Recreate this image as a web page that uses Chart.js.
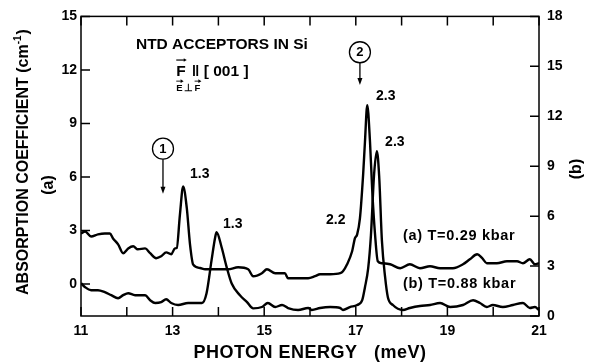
<!DOCTYPE html>
<html><head><meta charset="utf-8">
<script src="https://cdn.jsdelivr.net/npm/chart.js@4/dist/chart.umd.min.js"></script>
<style>html,body{margin:0;padding:0;background:#fff}#wrap{width:595px;height:364px;position:relative}</style>
</head><body><div id="wrap"><canvas id="c"></canvas></div>
<script>
// Curve (a) T=0.29 kbar, left axis (a)
const energyA = [11.00,11.09,11.22,11.37,11.52,11.63,11.70,11.81,11.92,12.03,12.14,12.24,12.40,12.51,12.64,12.75,12.86,12.97,13.05,13.09,13.16,13.23,13.31,13.38,13.45,13.60,13.71,13.88,14.03,14.21,14.43,14.65,14.76,14.95,15.06,15.24,15.45,15.52,15.74,15.96,16.11,16.22,16.44,16.66,16.72,16.81,16.92,16.98,17.03,17.09,17.16,17.20,17.25,17.31,17.36,17.42,17.48,17.57,17.75,17.97,18.18,18.40,18.62,18.84,19.12,19.34,19.49,19.65,19.76,19.86,20.08,20.30,20.52,20.65,20.80,20.91,21.00];
const absorptionA = [2.83,2.94,2.66,2.78,2.83,2.83,2.55,2.22,1.72,1.99,2.11,1.94,1.99,1.72,1.44,1.55,1.77,1.66,1.99,2.01,3.89,5.46,4.25,2.22,1.08,0.89,0.82,0.82,0.82,0.82,0.93,0.82,0.43,0.60,0.82,0.60,0.60,0.32,0.32,0.32,0.43,0.54,0.54,0.60,0.71,1.10,1.83,2.55,2.78,3.67,6.13,7.97,10.02,7.97,5.18,2.78,1.27,1.16,1.10,0.88,1.10,0.88,0.99,0.88,0.88,1.10,1.38,1.66,1.44,1.16,1.16,1.27,1.27,1.16,1.38,1.10,1.16];
// Curve (b) T=0.88 kbar, right axis (b)
const energyB = [11.00,11.09,11.22,11.37,11.52,11.66,11.81,11.92,12.03,12.18,12.40,12.51,12.62,12.75,12.86,12.97,13.12,13.34,13.51,13.64,13.74,13.85,13.93,13.96,14.07,14.18,14.29,14.47,14.62,14.76,14.95,15.08,15.24,15.39,15.52,15.74,15.96,16.04,16.22,16.44,16.66,16.72,16.87,17.03,17.14,17.20,17.27,17.33,17.40,17.46,17.51,17.57,17.64,17.70,17.81,18.03,18.18,18.40,18.62,18.84,19.06,19.34,19.56,19.71,19.86,19.99,20.21,20.43,20.65,20.80,20.91,21.00];
const absorptionB = [1.97,1.73,1.55,1.55,1.43,1.25,1.07,1.25,1.37,1.25,1.25,0.95,0.78,0.83,1.01,0.78,0.66,0.78,0.78,0.78,1.35,3.34,4.73,5.03,4.13,2.94,1.95,1.25,0.85,0.46,0.54,0.78,0.54,0.66,0.48,0.36,0.48,0.36,0.48,0.54,0.48,0.36,0.54,0.66,0.95,1.73,2.86,4.83,8.53,9.90,8.41,4.53,2.33,1.13,0.66,0.36,0.48,0.60,0.66,0.78,0.54,0.66,0.95,0.78,0.54,0.66,0.54,0.66,0.78,0.48,0.54,0.36];
// Ticks
const xTickValues = [11,12,13,14,15,16,17,18,19,20,21];
const xTickLabels = [11,13,15,17,19,21];
const leftTickValues = [0,3,6,9,12,15];
const rightTickValues = [0,3,6,9,12,15,18];
// Peak labels (text, energy, left-axis value)
const peakTexts = ['1.3','1.3','2.2','2.3','2.3'];
const peakEnergies = [13.38,14.10,16.35,17.44,17.64];
const peakLevels = [6.13,3.34,3.56,10.54,7.97];

const FF = '"Liberation Sans", Arial, Helvetica, sans-serif';

function arrowDown(ctx, x, y0, y1) {
  ctx.beginPath(); ctx.moveTo(x, y0); ctx.lineTo(x, y1 - 5); ctx.stroke();
  ctx.beginPath(); ctx.moveTo(x - 2.5, y1 - 7); ctx.lineTo(x + 2.5, y1 - 7); ctx.lineTo(x, y1); ctx.closePath(); ctx.fill();
}
function vecArrow(ctx, x0, x1, y) {
  ctx.beginPath(); ctx.moveTo(x0, y); ctx.lineTo(x1 - 2, y); ctx.stroke();
  ctx.beginPath(); ctx.moveTo(x1, y); ctx.lineTo(x1 - 3, y - 1.8); ctx.lineTo(x1 - 3, y + 1.8); ctx.closePath(); ctx.fill();
}

const decor = {
  id: 'decor',
  afterDraw(chart) {
    const ctx = chart.ctx, a = chart.chartArea;
    const sx = chart.scales.x, sy = chart.scales.y, sy2 = chart.scales.y2;
    const X = v => sx.getPixelForValue(v), Y = v => sy.getPixelForValue(v);
    ctx.save();
    ctx.strokeStyle = '#000'; ctx.fillStyle = '#000';
    ctx.lineWidth = 1.5;
    ctx.strokeRect(a.left, a.top, a.right - a.left, a.bottom - a.top);
    const L = 9;
    ctx.beginPath();
    sx.ticks.forEach(t => { const p = X(t.value); ctx.moveTo(p, a.bottom); ctx.lineTo(p, a.bottom - L); ctx.moveTo(p, a.top); ctx.lineTo(p, a.top + L); });
    sy.ticks.forEach(t => { const p = Y(t.value); ctx.moveTo(a.left, p); ctx.lineTo(a.left + L, p); });
    sy2.ticks.forEach(t => { const p = sy2.getPixelForValue(t.value); ctx.moveTo(a.right, p); ctx.lineTo(a.right - L, p); });
    ctx.stroke();

    ctx.textBaseline = 'middle';
    ctx.textAlign = 'left';
    ctx.font = 'bold 15.5px ' + FF;
    ctx.fillText('NTD ACCEPTORS IN Si', X(12.20), Y(13.39));
    const fx = X(13.08), fy = Y(11.88);
    ctx.fillText('F', fx, fy);
    const fw = ctx.measureText('F').width;
    ctx.fillText('\u2016 [ 001 ]', fx + fw + 6, fy);
    ctx.lineWidth = 1.2;
    vecArrow(ctx, fx, fx + fw + 1, fy - 12);
    ctx.font = 'bold 9.5px ' + FF;
    const ex = X(13.08), ey = Y(10.95);
    ctx.fillText('E', ex, ey);
    const ew = ctx.measureText('E').width;
    ctx.fillText('\u22A5', ex + ew + 1.5, ey);
    const pw = ctx.measureText('\u22A5').width;
    const f2x = ex + ew + pw + 3;
    ctx.fillText('F', f2x, ey);
    const f2w = ctx.measureText('F').width;
    ctx.lineWidth = 0.9;
    vecArrow(ctx, ex, ex + ew + 1, ey - 7.5);
    vecArrow(ctx, f2x, f2x + f2w + 1, ey - 7.5);

    ctx.lineWidth = 1.3;
    const circ = (cx, cy, label, tipY) => {
      ctx.beginPath(); ctx.arc(cx, cy, 10.5, 0, Math.PI * 2); ctx.stroke();
      ctx.font = 'bold 13px ' + FF; ctx.textAlign = 'center';
      ctx.fillText(label, cx, cy + 0.5);
      arrowDown(ctx, cx, cy + 10.5, tipY);
      ctx.textAlign = 'left';
    };
    circ(X(12.79), Y(7.58), '1', Y(5.06));
    circ(X(17.09), Y(12.99), '2', Y(11.15));

    ctx.font = 'bold 14px ' + FF;
    peakTexts.forEach((t, i) => ctx.fillText(t, X(peakEnergies[i]), Y(peakLevels[i])));
    ctx.font = 'bold 14.5px ' + FF;
    try { ctx.letterSpacing = '0.7px'; } catch (e) {}
    ctx.fillText('(a) T=0.29 kbar', X(18.03), Y(2.66));
    ctx.fillText('(b) T=0.88 kbar', X(18.03), Y(-0.02));
    try { ctx.letterSpacing = '0px'; } catch (e) {}

    ctx.font = 'bold 18px ' + FF;
    ctx.textAlign = 'center';
    try { ctx.letterSpacing = '0.5px'; } catch (e) {}
    ctx.fillText('PHOTON ENERGY   (meV)', (a.left + a.right) / 2, a.bottom + 37);
    try { ctx.letterSpacing = '0px'; } catch (e) {}

    ctx.save();
    ctx.translate(a.left - 57, 162);
    ctx.rotate(-Math.PI / 2);
    ctx.textAlign = 'left';
    ctx.font = 'bold 16px ' + FF;
    const s1 = 'ABSORPTION COEFFICIENT (cm', s3 = ')';
    const w1 = ctx.measureText(s1).width, w3 = ctx.measureText(s3).width;
    ctx.font = 'bold 10px ' + FF;
    const s2 = '-1'; const w2 = ctx.measureText(s2).width;
    const tot = w1 + w2 + w3 + 1;
    let px = -tot / 2;
    ctx.font = 'bold 16px ' + FF; ctx.fillText(s1, px, 0); px += w1;
    ctx.font = 'bold 10px ' + FF; ctx.fillText(s2, px, -6); px += w2 + 1;
    ctx.font = 'bold 16px ' + FF; ctx.fillText(s3, px, 0);
    ctx.restore();
    ctx.save();
    ctx.translate(a.left - 32, 185);
    ctx.rotate(-Math.PI / 2);
    ctx.textAlign = 'center';
    ctx.font = 'bold 16px ' + FF;
    ctx.fillText('(a)', 0, 0);
    ctx.restore();
    ctx.save();
    ctx.translate(a.right + 38, 169);
    ctx.rotate(-Math.PI / 2);
    ctx.textAlign = 'center';
    ctx.font = 'bold 16px ' + FF;
    ctx.fillText('(b)', 0, 0);
    ctx.restore();

    ctx.restore();
  }
};

const tickFont = { family: FF, size: 14, weight: 'bold' };

new Chart(document.getElementById('c'), {
  type: 'line',
  data: {
    datasets: [
      { label: '(a) T=0.29 kbar', data: energyA.map((e, i) => ({ x: e, y: absorptionA[i] })), yAxisID: 'y',
        borderColor: '#000', borderWidth: 2.4, pointRadius: 0, cubicInterpolationMode: 'monotone', fill: false },
      { label: '(b) T=0.88 kbar', data: energyB.map((e, i) => ({ x: e, y: absorptionB[i] })), yAxisID: 'y2',
        borderColor: '#000', borderWidth: 2.4, pointRadius: 0, cubicInterpolationMode: 'monotone', fill: false }
    ]
  },
  options: {
    responsive: true,
    maintainAspectRatio: false,
    animation: false,
    layout: { padding: { top: 14, left: 0, right: 0, bottom: 0 } },
    plugins: { legend: { display: false }, tooltip: { enabled: false } },
    scales: {
      x: {
        type: 'linear', position: 'bottom', min: 11, max: 21,
        afterBuildTicks: s => { s.ticks = xTickValues.map(v => ({ value: v })); },
        afterFit: s => { s.height = 48; },
        grid: { display: false, drawTicks: false },
        border: { display: false },
        ticks: { autoSkip: false, maxRotation: 0, color: '#000', font: tickFont, padding: 7,
          callback: v => xTickLabels.includes(v) ? String(v) : '' }
      },
      y: {
        type: 'linear', position: 'left', min: -1.8, max: 15,
        afterBuildTicks: s => { s.ticks = leftTickValues.map(v => ({ value: v })); },
        afterFit: s => { s.width = 81; },
        grid: { display: false, drawTicks: false },
        border: { display: false },
        ticks: { color: '#000', font: tickFont, padding: 4 }
      },
      y2: {
        type: 'linear', position: 'right', min: 0, max: 18,
        afterBuildTicks: s => { s.ticks = rightTickValues.map(v => ({ value: v })); },
        afterFit: s => { s.width = 56; },
        grid: { display: false, drawTicks: false },
        border: { display: false },
        ticks: { color: '#000', font: tickFont, padding: 8 }
      }
    }
  },
  plugins: [decor]
});
</script>
</body></html>
